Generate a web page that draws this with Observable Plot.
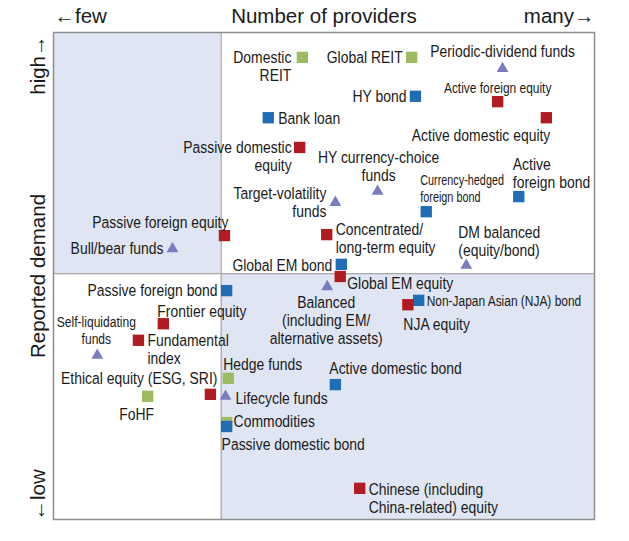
<!DOCTYPE html>
<html><head><meta charset="utf-8">
<script src="https://cdn.jsdelivr.net/npm/d3@7"></script>
<script src="https://cdn.jsdelivr.net/npm/@observablehq/plot@0.6"></script>
<style>
html,body{margin:0;padding:0;background:#fff;}
</style></head><body><div id="chart"></div>
<script>
// ---- data (0–100 relative scale: providers → x, reported demand → y) ----
const labels = [
  "Domestic\nREIT", "Global REIT", "Periodic-dividend funds", "HY bond",
  "Active foreign equity", "Bank loan", "Active domestic equity",
  "Passive domestic\nequity", "HY currency-choice\nfunds", "Active\nforeign bond",
  "Target-volatility\nfunds", "Currency-hedged\nforeign bond", "Passive foreign equity",
  "Concentrated/\nlong-term equity", "Bull/bear funds", "Global EM bond",
  "DM balanced\n(equity/bond)", "Global EM equity",
  "Balanced\n(including EM/\nalternative assets)", "Passive foreign bond",
  "Non-Japan Asian (NJA) bond", "NJA equity", "Frontier equity",
  "Fundamental\nindex", "Self-liquidating\nfunds", "Hedge funds",
  "Active domestic bond", "Ethical equity (ESG, SRI)", "FoHF", "Lifecycle funds",
  "Commodities", "Passive domestic bond", "Chinese (including\nChina-related) equity"
];
const providers = [46.0, 66.2, 83.0, 66.9, 82.1, 39.7, 91.1, 45.5, 59.9, 86.0, 52.1, 68.9, 31.6,
  50.5, 22.0, 53.2, 76.3, 53.0, 50.6, 32.0, 67.5, 65.5, 20.3, 15.7, 8.1, 32.3, 52.1, 29.0,
  17.4, 31.8, 32.0, 32.0, 56.6];
const demand = [94.9, 94.9, 92.6, 86.9, 85.8, 82.5, 82.5, 76.4, 67.4, 66.3, 65.1, 63.2, 58.3,
  58.5, 55.6, 52.4, 52.2, 49.9, 47.8, 47.0, 45.0, 44.1, 40.2, 36.8, 33.7, 29.0, 27.7, 25.7,
  25.3, 25.3, 19.9, 19.1, 6.4];
const groups = ["Alternative", "Alternative", "Fund type", "Bond", "Equity", "Bond", "Equity",
  "Equity", "Fund type", "Bond", "Fund type", "Bond", "Equity", "Equity", "Fund type", "Bond",
  "Fund type", "Equity", "Fund type", "Bond", "Bond", "Equity", "Equity", "Equity", "Fund type",
  "Alternative", "Bond", "Equity", "Alternative", "Fund type", "Alternative", "Bond", "Equity"];
const dividers = {providers: 31.0, demand: 50.5};

// ---- styling / label placement (separate from data) ----
const groupNames = ["Equity", "Bond", "Alternative", "Fund type"];
const groupColors = ["#b01c22", "#1f6db5", "#9dbb61", "#7b7cbf"];
// [textAnchor, dx, dy, horizontal condensing for the smaller narrow labels]
const labelLayout = [
  ["end",-11,9], ["end",-9,0], ["middle",0,-17], ["end",-9,0], ["middle",0,-14,0.77],
  ["start",10,0], ["end",4,17], ["end",-8,9], ["middle",1,-25.5], ["start",-6,-23.5],
  ["end",-9,0], ["start",-6,-23.5,0.70], ["end",4,-13], ["start",9,4], ["end",-9,-1],
  ["end",-9,1], ["start",-8,-24.5], ["start",7,7], ["middle",-1,34], ["end",-9,0],
  ["start",8,0,0.77], ["start",-4.5,19], ["start",-6,-13], ["start",9,9], ["middle",-1,-25.5,0.78],
  ["start",-5,-14], ["start",-6,-16], ["end",7,-16], ["middle",-11,18], ["start",10,2],
  ["start",7,-1], ["start",-5,18], ["start",9,9.5]
];

const data = labels.map((l, i) => ({label: l, x: providers[i], y: demand[i], group: groups[i]}));
const quadrants = [
  {x1: 0, x2: dividers.providers, y1: dividers.demand, y2: 100},
  {x1: dividers.providers, x2: 100, y1: 0, y2: dividers.demand}
];

const FONT = "'Liberation Sans',Arial,Helvetica,sans-serif";
const INK = "#1a1a1a";

const labelMarks = data.map((d, i) => {
  const [anchor, dx, dy, small] = labelLayout[i];
  return Plot.text([d], {
    x: "x", y: "y", text: "label", textAnchor: anchor, dx, dy,
    lineAnchor: "middle", lineHeight: small ? 1.08 : 1.06,
    fontSize: small ? 15.5 : 17, fontFamily: FONT, fill: INK
  });
});

const axisText = {fontSize: 20.5, fontFamily: FONT, fill: INK, lineAnchor: "middle"};

const chart = Plot.plot({
  width: 629, height: 541,
  marginLeft: 53, marginRight: 35, marginTop: 32, marginBottom: 22,
  x: {domain: [0, 100], axis: null},
  y: {domain: [0, 100], axis: null},
  color: {domain: groupNames, range: groupColors},
  marks: [
    Plot.rect(quadrants, {x1: "x1", x2: "x2", y1: "y1", y2: "y2", fill: "#dfe5f2"}),
    Plot.ruleX([dividers.providers], {stroke: "#a8a8a8", strokeWidth: 1.2}),
    Plot.ruleY([dividers.demand], {stroke: "#a8a8a8", strokeWidth: 1.2}),
    Plot.frame({stroke: "#8f8f8f", strokeWidth: 1.5}),
    Plot.dot(data.filter(d => d.group !== "Fund type"), {x: "x", y: "y", symbol: "square", r: 6.4, fill: "group"}),
    Plot.dot(data.filter(d => d.group === "Fund type"), {x: "x", y: "y", symbol: "triangle", r: 4.4, fill: "group"}),
    ...labelMarks,
    Plot.text(["Number of providers"], {...axisText, frameAnchor: "top", textAnchor: "middle", dy: -16}),
    Plot.text(["\u2190few"], {...axisText, frameAnchor: "top-left", textAnchor: "start", dx: 1, dy: -16}),
    Plot.text(["many\u2192"], {...axisText, frameAnchor: "top-right", textAnchor: "end", dx: 0, dy: -16}),
    Plot.text(["Reported demand"], {...axisText, frameAnchor: "left", rotate: -90, textAnchor: "middle", dx: -15, dy: 0}),
    Plot.text(["high\u2192"], {...axisText, frameAnchor: "top-left", rotate: -90, textAnchor: "end", dx: -15, dy: 3}),
    Plot.text(["\u2190low"], {...axisText, frameAnchor: "bottom-left", rotate: -90, textAnchor: "start", dx: -15, dy: 1})
  ]
});

// condense the point labels horizontally around their own anchor (narrow type as in the reference)
const condense = new Map(labels.map((l, i) => [l.replace(/\n/g, ""), labelLayout[i][3] || 0.82]));
chart.querySelectorAll("text").forEach(t => {
  const k = condense.get(t.textContent);
  if (k === undefined) return;
  let tr = t.getAttribute("transform");
  if (!tr) {
    const x = +(t.getAttribute("x") || 0), y = +(t.getAttribute("y") || 0);
    t.removeAttribute("x"); t.removeAttribute("y");
    tr = `translate(${x},${y})`;
  }
  t.setAttribute("transform", tr + ` scale(${k},1)`);
});
document.getElementById("chart").appendChild(chart);
</script>
</body></html>
